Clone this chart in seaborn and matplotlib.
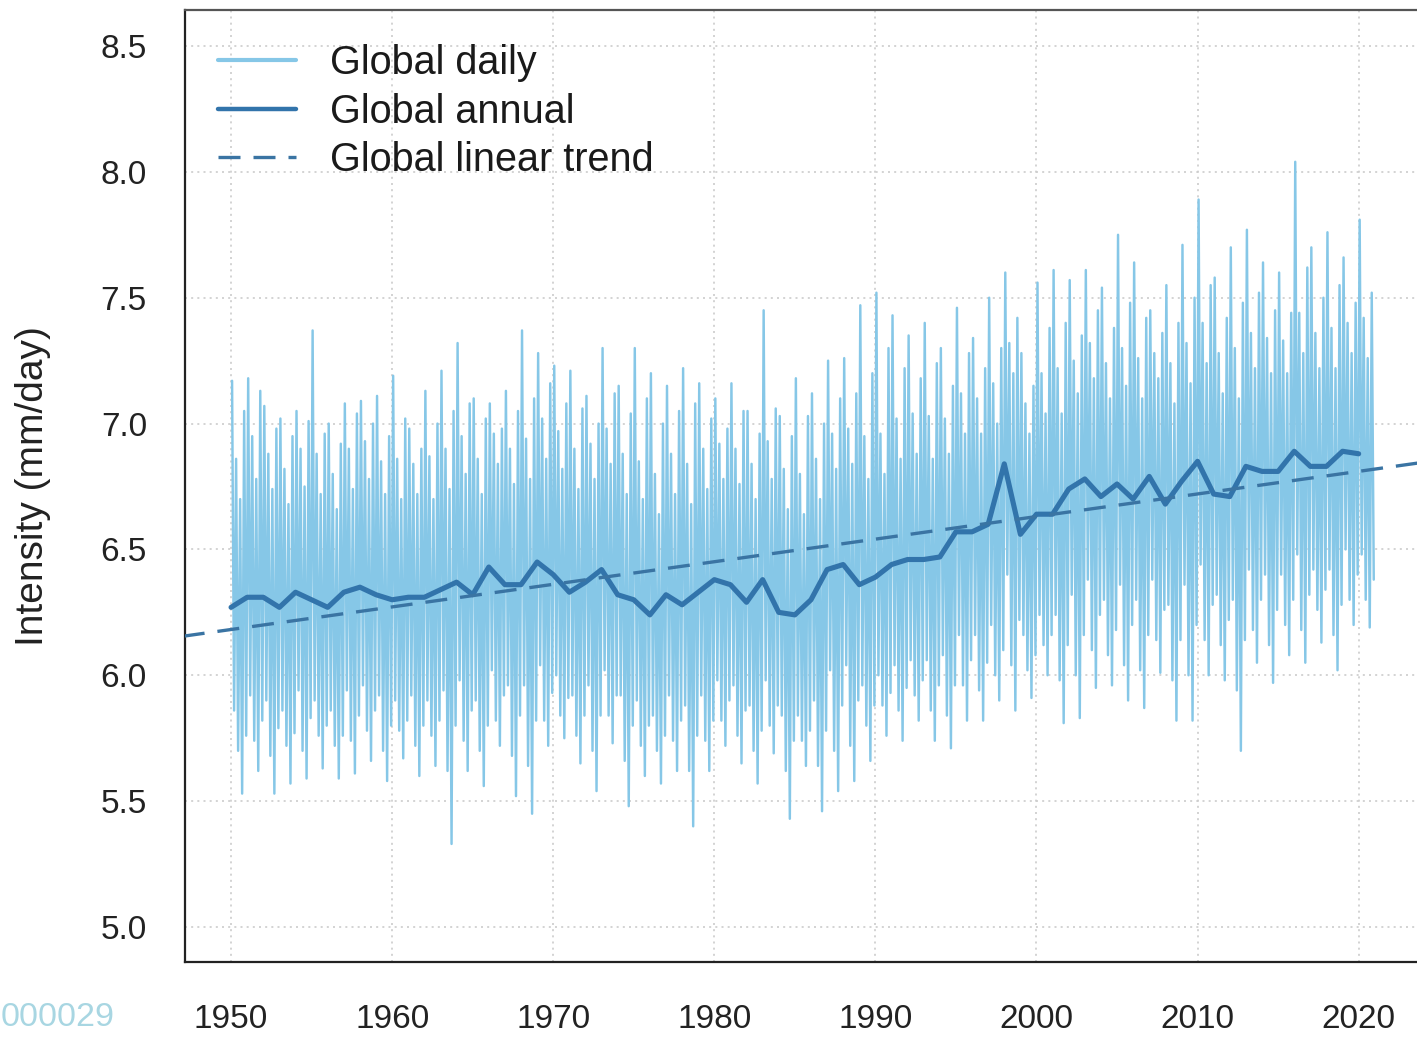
import numpy as np
import pandas as pd
import matplotlib
matplotlib.use("Agg")
import matplotlib.pyplot as plt
import seaborn as sns

# --- data ---
years = list(range(1950, 2021))

annual = [
    6.27, 6.31, 6.31, 6.27, 6.33, 6.30, 6.27, 6.33, 6.35, 6.32,
    6.30, 6.31, 6.31, 6.34, 6.37, 6.32, 6.43, 6.36, 6.36, 6.45,
    6.40, 6.33, 6.37, 6.42, 6.32, 6.30, 6.24, 6.32, 6.28, 6.33,
    6.38, 6.36, 6.29, 6.38, 6.25, 6.24, 6.30, 6.42, 6.44, 6.36,
    6.39, 6.44, 6.46, 6.46, 6.47, 6.57, 6.57, 6.60, 6.84, 6.56,
    6.64, 6.64, 6.74, 6.78, 6.71, 6.76, 6.70, 6.79, 6.68, 6.77,
    6.85, 6.72, 6.71, 6.83, 6.81, 6.81, 6.89, 6.83, 6.83, 6.89,
    6.88,
]

# daily series, summarised per year by its spikes and the dense band edges
daily_peak = [
    7.17, 7.18, 7.07, 7.02, 7.05, 7.37, 7.00, 7.08, 7.09, 7.11,
    7.19, 6.98, 7.13, 7.21, 7.32, 7.10, 7.08, 7.13, 7.37, 7.28,
    7.23, 7.21, 7.11, 7.30, 7.15, 7.30, 7.20, 7.15, 7.22, 7.16,
    7.10, 7.16, 7.05, 7.45, 7.03, 7.18, 7.12, 7.25, 7.26, 7.47,
    7.52, 7.43, 7.35, 7.40, 7.30, 7.46, 7.34, 7.50, 7.60, 7.28,
    7.56, 7.61, 7.57, 7.61, 7.54, 7.75, 7.64, 7.45, 7.55, 7.71,
    7.89, 7.58, 7.70, 7.77, 7.64, 7.60, 8.04, 7.70, 7.76, 7.66,
    7.81,
]
daily_peak2 = [
    7.05, 7.13, 6.98, 6.95, 7.01, 6.96, 6.92, 7.04, 7.00, 6.95,
    7.02, 6.90, 7.00, 7.05, 7.08, 7.02, 6.98, 7.05, 7.10, 7.16,
    7.08, 7.06, 7.00, 7.12, 7.04, 7.10, 7.00, 7.05, 7.08, 7.02,
    6.98, 7.05, 6.96, 7.06, 6.95, 7.03, 7.00, 7.10, 7.12, 7.20,
    7.30, 7.22, 7.18, 7.24, 7.15, 7.28, 7.22, 7.30, 7.42, 7.15,
    7.38, 7.40, 7.35, 7.45, 7.38, 7.48, 7.42, 7.36, 7.40, 7.50,
    7.55, 7.42, 7.48, 7.52, 7.45, 7.44, 7.62, 7.50, 7.55, 7.48,
    7.52,
]
daily_peak3 = [
    6.86, 6.95, 6.88, 6.82, 6.90, 6.88, 6.80, 6.90, 6.93, 6.85,
    6.86, 6.84, 6.87, 6.90, 6.95, 6.86, 6.96, 6.90, 6.94, 7.02,
    6.97, 6.90, 6.92, 6.98, 6.88, 6.85, 6.80, 6.88, 6.84, 6.90,
    6.92, 6.90, 6.84, 6.93, 6.82, 6.80, 6.86, 6.96, 6.98, 6.95,
    6.96, 7.02, 7.04, 7.03, 7.02, 7.12, 7.10, 7.16, 7.32, 7.08,
    7.20, 7.22, 7.25, 7.32, 7.24, 7.30, 7.26, 7.28, 7.24, 7.32,
    7.40, 7.28, 7.30, 7.36, 7.34, 7.33, 7.44, 7.36, 7.38, 7.40,
    7.42,
]
daily_high = [
    6.70, 6.78, 6.74, 6.68, 6.75, 6.72, 6.66, 6.74, 6.78, 6.72,
    6.70, 6.72, 6.70, 6.74, 6.80, 6.72, 6.84, 6.76, 6.78, 6.86,
    6.82, 6.74, 6.78, 6.84, 6.72, 6.70, 6.64, 6.72, 6.68, 6.74,
    6.78, 6.76, 6.70, 6.78, 6.66, 6.64, 6.70, 6.82, 6.84, 6.78,
    6.80, 6.86, 6.88, 6.86, 6.88, 6.96, 6.96, 7.00, 7.20, 6.96,
    7.04, 7.04, 7.12, 7.18, 7.10, 7.15, 7.10, 7.18, 7.08, 7.16,
    7.24, 7.12, 7.10, 7.22, 7.20, 7.20, 7.28, 7.22, 7.22, 7.28,
    7.26,
]
daily_low = [
    5.86, 5.92, 5.90, 5.86, 5.94, 5.90, 5.86, 5.94, 5.96, 5.92,
    5.90, 5.92, 5.90, 5.94, 5.98, 5.90, 6.02, 5.96, 5.96, 6.04,
    6.00, 5.92, 5.96, 6.02, 5.92, 5.90, 5.84, 5.92, 5.88, 5.92,
    5.98, 5.96, 5.88, 5.98, 5.84, 5.84, 5.90, 6.02, 6.04, 5.96,
    6.00, 6.04, 6.06, 6.06, 6.08, 6.16, 6.16, 6.20, 6.40, 6.16,
    6.24, 6.24, 6.32, 6.38, 6.30, 6.36, 6.30, 6.38, 6.28, 6.36,
    6.44, 6.32, 6.30, 6.42, 6.40, 6.40, 6.48, 6.42, 6.42, 6.50,
    6.48,
]
daily_dip3 = [
    5.76, 5.82, 5.79, 5.77, 5.83, 5.80, 5.76, 5.84, 5.86, 5.80,
    5.82, 5.80, 5.82, 5.80, 5.86, 5.80, 5.92, 5.84, 5.82, 5.93,
    5.91, 5.84, 5.84, 5.92, 5.80, 5.80, 5.76, 5.82, 5.76, 5.82,
    5.90, 5.86, 5.78, 5.88, 5.74, 5.78, 5.78, 5.88, 5.90, 5.88,
    5.93, 5.95, 5.98, 5.96, 5.96, 6.06, 6.05, 6.10, 6.22, 6.08,
    6.16, 6.12, 6.16, 6.24, 6.18, 6.20, 6.16, 6.26, 6.14, 6.20,
    6.28, 6.22, 6.14, 6.30, 6.26, 6.30, 6.32, 6.34, 6.28, 6.40,
    6.38,
]
daily_dip2 = [
    5.70, 5.74, 5.68, 5.72, 5.70, 5.76, 5.72, 5.74, 5.78, 5.70,
    5.78, 5.72, 5.76, 5.62, 5.74, 5.70, 5.82, 5.68, 5.64, 5.82,
    5.84, 5.76, 5.70, 5.84, 5.66, 5.72, 5.70, 5.74, 5.62, 5.74,
    5.82, 5.76, 5.70, 5.80, 5.62, 5.74, 5.64, 5.70, 5.72, 5.80,
    5.88, 5.86, 5.92, 5.86, 5.84, 5.96, 5.94, 6.00, 6.04, 6.02,
    6.12, 5.98, 6.00, 6.10, 6.08, 6.04, 6.02, 6.14, 5.98, 6.00,
    6.14, 6.12, 5.94, 6.18, 6.12, 6.20, 6.18, 6.26, 6.16, 6.30,
    6.30,
]
daily_dip = [
    5.53, 5.62, 5.53, 5.57, 5.59, 5.63, 5.59, 5.61, 5.66, 5.58,
    5.67, 5.60, 5.64, 5.33, 5.62, 5.56, 5.72, 5.52, 5.45, 5.72,
    5.75, 5.65, 5.54, 5.73, 5.48, 5.60, 5.57, 5.62, 5.40, 5.62,
    5.72, 5.65, 5.57, 5.69, 5.43, 5.64, 5.46, 5.54, 5.58, 5.66,
    5.76, 5.74, 5.82, 5.74, 5.71, 5.82, 5.82, 5.90, 5.86, 5.91,
    6.00, 5.81, 5.83, 5.95, 5.96, 5.90, 5.87, 6.01, 5.82, 5.82,
    6.00, 5.98, 5.70, 6.05, 5.97, 6.08, 6.05, 6.13, 6.02, 6.20,
    6.19,
]

# linear trend, read at the left and right edges of the panel
trend_years = [1947, 2026]
trend_vals = [6.155, 6.864]

x_ticks = list(range(1950, 2021, 10))
y_ticks = [5.0, 5.5, 6.0, 6.5, 7.0, 7.5, 8.0, 8.5]

DAILY_COLOR = "#86c7e7"
ANNUAL_COLOR = "#3274ab"
TREND_COLOR = "#3a74a3"


def build_daily_frame():
    """Interleave the per-year spikes and band edges into one time series."""
    cols = [daily_peak, daily_low, daily_peak3, daily_dip2,
            daily_high, daily_dip, daily_peak2, daily_dip3]
    rows = []
    for i, yr in enumerate(years):
        for k, col in enumerate(cols):
            rows.append((yr + (k + 0.5) / len(cols), col[i]))
    return pd.DataFrame(rows, columns=["year", "intensity"])


def plot_intensity():
    sns.set_style("white")
    plt.rcParams["font.family"] = ["Liberation Sans", "DejaVu Sans"]

    daily_df = build_daily_frame()
    annual_df = pd.DataFrame({"year": years, "intensity": annual})
    trend_df = pd.DataFrame({"year": trend_years, "intensity": trend_vals})

    fig = plt.figure(figsize=(14.17, 10.40), dpi=100)
    ax = fig.add_axes([185 / 1417, 78 / 1040, 1260 / 1417, 952 / 1040])

    sns.lineplot(data=daily_df, x="year", y="intensity", color=DAILY_COLOR,
                 linewidth=1.75, estimator=None, sort=False,
                 label="Global daily", ax=ax, zorder=2)
    sns.lineplot(data=annual_df, x="year", y="intensity", color=ANNUAL_COLOR,
                 linewidth=3.7, estimator=None, label="Global annual", ax=ax,
                 zorder=3)
    sns.lineplot(data=trend_df, x="year", y="intensity", color=TREND_COLOR,
                 linewidth=2.4, linestyle=(0, (6.6, 3.9)), estimator=None,
                 label="Global linear trend", ax=ax, zorder=3)

    ax.set_xlim(1947.14, 2025.36)
    ax.set_ylim(4.861, 8.643)
    ax.set_xticks(x_ticks)
    ax.set_yticks(y_ticks)
    ax.set_yticklabels([f"{v:.1f}" for v in y_ticks])
    ax.set_xlabel("")
    ax.set_ylabel("Intensity (mm/day)", fontsize=28, color="#222222")
    ax.yaxis.set_label_coords(-0.106, 0.5)

    ax.grid(True, color="#cccccc", linestyle=(0, (1.2, 2.5)), linewidth=1.2)
    ax.set_axisbelow(True)
    for side in ["left", "bottom", "top", "right"]:
        ax.spines[side].set_color("#222222")
        ax.spines[side].set_linewidth(1.6)
    ax.spines["top"].set_color("#555555")

    ax.tick_params(axis="y", direction="out", length=14.4, width=1.4,
                   color="#555555", labelsize=24, labelcolor="#222222", pad=13)
    ax.tick_params(axis="x", direction="out", length=13.5, width=1.4,
                   color="#777777", labelsize=24, labelcolor="#222222", pad=17)

    leg = ax.legend(loc="upper left", bbox_to_anchor=(0.026, 0.964),
                    frameon=False, fontsize=28.5, handlelength=1.97,
                    handletextpad=0.86, labelspacing=0.26, borderpad=0,
                    borderaxespad=0)
    widths = [3.0, 3.2, 2.4]
    for line, w in zip(leg.get_lines(), widths):
        line.set_linewidth(w)
    for text in leg.get_texts():
        text.set_color("#1a1a1a")

    fig.text(1 / 1417, 1 - 1018 / 1040, "000029", ha="left", va="center",
             fontsize=24.5, color="#a8d6e2")

    fig.savefig("out.png", dpi=100)


if __name__ == "__main__":
    plot_intensity()
